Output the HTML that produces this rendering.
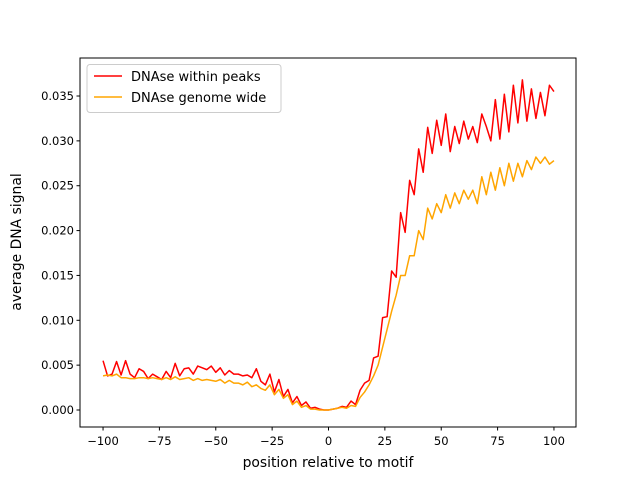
<!DOCTYPE html>
<html><head><meta charset="utf-8"><style>
body{margin:0;background:#fff}
svg{display:block;font-family:"DejaVu Sans","Liberation Sans",sans-serif}
</style></head><body>
<svg id="chart" width="640" height="480">
<rect x="0" y="0" width="640" height="480" fill="#fff"/>
<g id="series"></g>
<rect x="80" y="58" width="496" height="369" fill="none" stroke="#000" stroke-width="1"/>
<g id="xticks"></g><g id="yticks"></g>
<text x="328" y="467" font-size="13.9" text-anchor="middle">position relative to motif</text>
<text transform="translate(21,242) rotate(-90)" font-size="13.9" text-anchor="middle">average DNA signal</text>
<g>
<rect x="87" y="64.5" width="194" height="48" rx="3" fill="#fff" fill-opacity="0.8" stroke="#ccc"/>
<g><line x1="94" y1="76" x2="122" y2="76" stroke="#ff0000" stroke-width="1.5"/><text x="131" y="81" font-size="13">DNAse within peaks</text></g>
<g><line x1="94" y1="97" x2="122" y2="97" stroke="#ffa500" stroke-width="1.5"/><text x="131" y="102" font-size="13">DNAse genome wide</text></g>
</g>
</svg>
<script>
const xTicks=[-100,-75,-50,-25,0,25,50,75,100];
const yTicks=[0,0.005,0.01,0.015,0.02,0.025,0.03,0.035];
const redVals=[5.5,3.8,4.0,5.4,3.9,5.5,4.0,3.6,4.6,4.3,3.5,4.0,3.7,3.4,4.3,3.6,5.2,3.8,4.6,4.7,4.0,4.9,4.7,4.5,4.9,4.2,4.7,3.9,4.4,4.0,4.0,3.8,3.9,3.6,4.6,3.2,2.8,4.0,2.0,3.4,1.5,
2.3,0.8,1.5,0.5,0.9,0.2,0.3,0.1,0.0,0.0,0.1,0.2,0.4,0.3,
1.0,0.6,2.2,3.0,3.3,5.8,6.0,10.3,10.4,15.5,14.8,22.0,19.8,25.6,24.0,29.1,26.5,31.5,28.6,32.3,29.5,33.0,28.8,31.6,29.7,32.2,30.2,31.6,29.8,33.0,31.6,30.0,34.6,30.2,35.2,31.0,36.2,32.0,36.8,32.2,35.8,32.5,35.4,32.8,36.2,35.5];
const orangeVals=[3.8,3.9,3.8,4.0,3.6,3.6,3.5,3.5,3.6,3.6,3.5,3.6,3.5,3.4,3.6,3.4,3.7,3.4,3.5,3.6,3.3,3.5,3.3,3.4,3.3,3.2,3.4,3.0,3.3,3.0,3.0,2.8,3.1,2.6,2.8,2.4,2.2,2.8,1.7,2.3,1.3,
1.7,0.6,1.0,0.3,0.5,0.1,0.1,0.0,0.0,0.0,0.1,0.2,0.3,0.2,
0.5,0.4,1.4,2.0,2.8,3.8,5.0,7.0,9.0,11.0,12.8,15.0,15.0,17.2,17.2,20.0,19.0,22.5,21.3,23.0,22.0,24.0,22.5,24.2,23.0,24.5,23.5,24.5,23.0,26.0,24.0,26.5,24.5,27.0,25.0,27.5,25.5,27.5,26.0,27.8,26.8,28.2,27.5,28.2,27.4,27.8];
const xStart=-100, xStep=2, valScale=0.001;
const NS="http://www.w3.org/2000/svg";
function sx(v){return 80.5+(v+110)*496/220;}
function sy(v){return 410-v*8971;}
function mk(t,a,p){const e=document.createElementNS(NS,t);for(const k in a)e.setAttribute(k,a[k]);p.appendChild(e);return e;}
const ser=document.getElementById('series');
function line(vals,color,name){
  const pts=vals.map((v,i)=>sx(xStart+i*xStep).toFixed(2)+','+sy(v*valScale).toFixed(2)).join(' ');
  const p=mk('polyline',{points:pts,fill:'none',stroke:color,'stroke-width':1.5,'stroke-linejoin':'round'},ser);
  
  
}
line(redVals,'#ff0000','series-within-peaks');
line(orangeVals,'#ffa500','series-genome-wide');
const xg=document.getElementById('xticks');
xTicks.forEach(t=>{const x=sx(t);
  const l=mk('line',{x1:x,x2:x,y1:427,y2:430.5,stroke:'#000'},xg);
  
  
  const tx=mk('text',{x:x,y:445,'font-size':11.5,'text-anchor':'middle'},xg);tx.textContent=String(t).replace('-','\u2212');
  
  
});
const yg=document.getElementById('yticks');
yTicks.forEach(t=>{const y=sy(t);
  const l=mk('line',{x1:76.5,x2:80,y1:y,y2:y,stroke:'#000'},yg);
  
  
  const tx=mk('text',{x:74,y:y+4,'font-size':11.5,'text-anchor':'end'},yg);tx.textContent=t.toFixed(3);
  
  
});
</script>
</body></html>
